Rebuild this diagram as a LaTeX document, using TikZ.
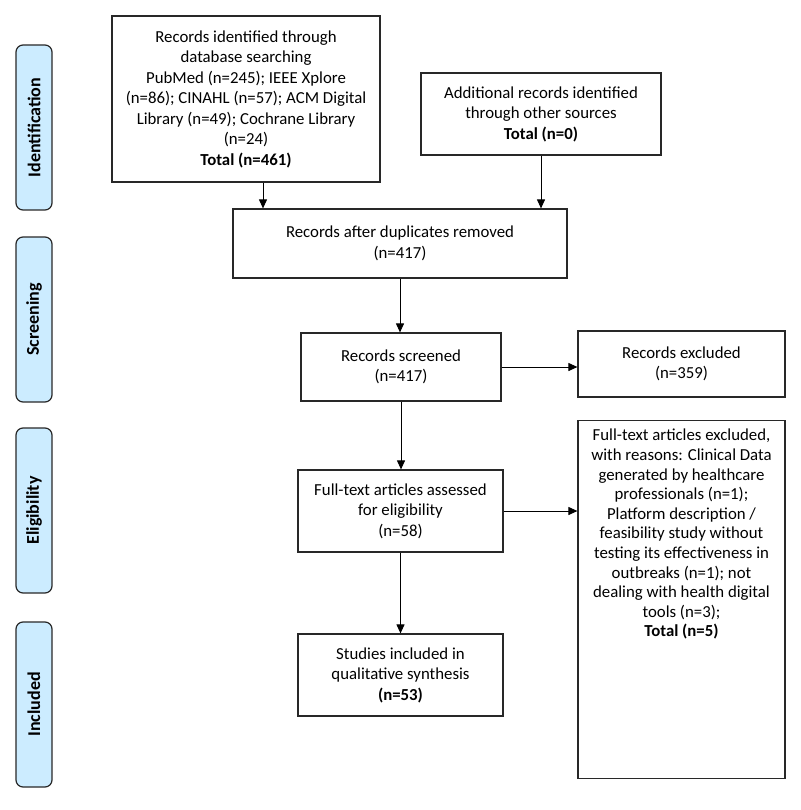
\documentclass[tikz,border=0pt]{standalone}
\usepackage{fontspec}
\setmainfont{Carlito}
\usetikzlibrary{arrows.meta}
\definecolor{phase}{RGB}{204,236,255}
\definecolor{edge}{RGB}{40,40,40}
\begin{document}
\begin{tikzpicture}[x=1pt,y=-1pt,
  txt/.style={align=center,inner sep=0pt,font=\fontsize{16.8}{20.5}\selectfont},
  box/.style={txt,draw=edge,line width=1.2pt},
  phasebox/.style={draw=edge,fill=phase,line width=1.2pt,rounded corners=7pt,minimum width=165pt,minimum height=36pt,rotate=90,font=\fontsize{18}{20}\selectfont\bfseries},
  arr/.style={line width=1pt,draw=black,-{Triangle[length=9pt,width=8pt]}}]
\useasboundingbox (0,0) rectangle (800,810);
% phase labels
\node[phasebox] (pid) at (34,127.5) {Identification};
\node[phasebox] (psc) at (34,319.5) {Screening};
\node[phasebox] (pel) at (34,510.5) {Eligibility};
\node[phasebox] (pin) at (34,704.5) {Included};
% boxes
\node[box,minimum width=268pt,minimum height=166pt] (b1) at (246,99) {Records identified through\\database searching\\PubMed (n=245); IEEE Xplore\\(n=86); CINAHL (n=57); ACM Digital\\Library (n=49); Cochrane Library\\(n=24)\\\textbf{Total (n=461)}};
\node[box,minimum width=240pt,minimum height=82pt] (b2) at (541,114) {Additional records identified\\through other sources\\\textbf{Total (n=0)}};
\node[box,minimum width=334pt,minimum height=69pt] (dup) at (400,243.5) {Records after duplicates removed\\(n=417)};
\node[box,minimum width=200pt,minimum height=68pt] (scr) at (401,367) {Records screened\\(n=417)};
\node[box,minimum width=207pt,minimum height=66pt] (exc) at (681.5,364) {Records excluded\\(n=359)};
\node[box,minimum width=205pt,minimum height=82pt] (ass) at (400.5,511) {Full-text articles assessed\\for eligibility\\(n=58)};
\node[box,minimum width=207pt,minimum height=358pt,anchor=north] (fex) at (681.5,420) {};
\node[txt,anchor=north,font=\fontsize{16.8}{19.6}\selectfont] (fext) at (681.5,429) {Full-text articles excluded,\\with reasons: Clinical Data\\generated by healthcare\\professionals (n=1);\\Platform description /\\feasibility study without\\testing its effectiveness in\\outbreaks (n=1); not\\dealing with health digital\\tools (n=3);\\\textbf{Total (n=5)}};
\node[box,minimum width=205pt,minimum height=82pt] (inc) at (400.5,675) {Studies included in\\qualitative synthesis\\\textbf{(n=53)}};
% connectors
\draw[arr] ([xshift=17pt]b1.south) -- ([xshift=17pt]b1.south |- dup.north);
\draw[arr] (b2.south) -- (b2.south |- dup.north);
\draw[arr] (dup.south) -- (dup.south |- scr.north);
\draw[arr] (scr.south) -- (scr.south |- ass.north);
\draw[arr] (ass.south) -- (ass.south |- inc.north);
\draw[arr] (scr.east) -- (scr.east -| exc.west);
\draw[arr] (ass.east) -- (ass.east -| fex.west);
\end{tikzpicture}
\end{document}
